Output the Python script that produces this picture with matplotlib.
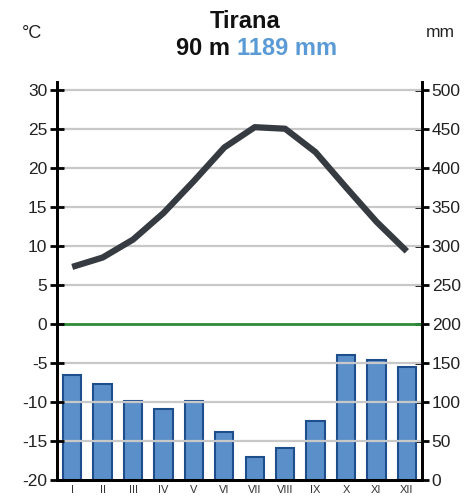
import matplotlib.pyplot as plt

plt.rcParams['font.family'] = ['Liberation Sans', 'DejaVu Sans']
plt.rcParams['axes.unicode_minus'] = False

# Climate data for Tirana
months = ['I', 'II', 'III', 'IV', 'V', 'VI', 'VII', 'VIII', 'IX', 'X', 'XI', 'XII']
temp_c = [7.3, 8.5, 10.8, 14.2, 18.3, 22.6, 25.2, 25.0, 22.0, 17.5, 13.1, 9.3]
precip_mm = [134, 123, 101, 91, 101, 62, 29, 41, 75, 160, 154, 145]
title = 'Tirana'
altitude = '90 m'
total_precip = '1189 mm'

fig = plt.figure(figsize=(4.73, 4.97), dpi=100)
ax = fig.add_axes([0.1205, 0.0342, 0.7717, 0.801])
ax2 = ax.twinx()

x = list(range(len(months)))

# grid on the temperature axis
ax.set_ylim(-20, 31)
ax.set_xlim(-0.5, 11.5)
for v in range(-20, 31, 5):
    if v not in (-20, 0):
        ax.axhline(v, color='#c8c8c8', lw=1.6, zorder=0)
ax.axhline(0, color='#2e8b3a', lw=2, zorder=1)

# precipitation bars on the right axis
ax2.set_ylim(0, 510)
ax2.bar(x, precip_mm, width=0.6, color='#5b8fc9', edgecolor='#1f4e8c', lw=1.5, zorder=2)

ax.plot(x, temp_c, color='#353b40', lw=4.5, solid_capstyle='butt', zorder=3)
ax.set_zorder(ax2.get_zorder() + 1)
ax.patch.set_visible(False)

ax.set_yticks(range(-20, 31, 5))
ax2.set_yticks(range(0, 501, 50))
ax.set_xticks(x)
ax.set_xticklabels(months, fontsize=8, color='#333333')
ax.tick_params(axis='x', length=0, pad=3.5)
ax.tick_params(axis='y', direction='inout', length=10, width=2, labelsize=12.5, colors='black', labelcolor='#222222', pad=2)
ax2.tick_params(axis='y', direction='inout', length=10, width=2, labelsize=12.5, colors='black', labelcolor='#222222', pad=2)

for a in (ax, ax2):
    a.spines['top'].set_visible(False)
    a.spines['left'].set_linewidth(2)
    a.spines['right'].set_linewidth(2)
    a.spines['bottom'].set_linewidth(2)

fig.text(0.518, 0.956, title, ha='center', va='center', fontsize=17, fontweight='bold', color='#111111')
fig.text(0.5, 0.903, altitude + ' ', ha='right', va='center', fontsize=17, fontweight='bold', color='#111111')
fig.text(0.5, 0.903, total_precip, ha='left', va='center', fontsize=17, fontweight='bold', color='#5b9bd5')
fig.text(0.068, 0.933, '°C', ha='center', va='center', fontsize=13, color='#222222')
fig.text(0.93, 0.935, 'mm', ha='center', va='center', fontsize=12.5, color='#222222')

fig.savefig('out.png', dpi=100)
